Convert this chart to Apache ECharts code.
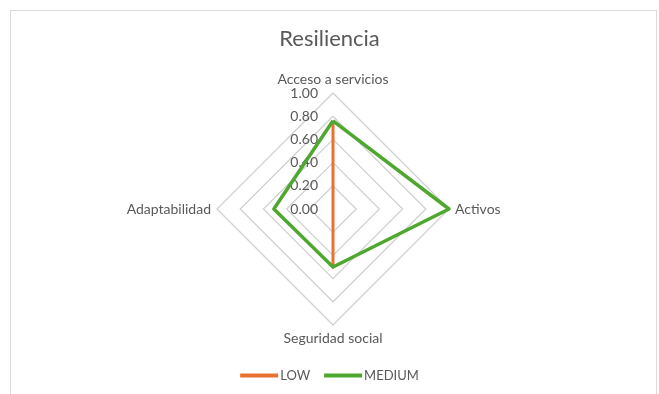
<!DOCTYPE html>
<html><head><meta charset="utf-8">
<script src="https://cdn.jsdelivr.net/npm/echarts@6/dist/echarts.min.js"></script>
<style>html,body{margin:0;padding:0;background:#fff}#c{width:659px;height:394px;position:relative}
#b{position:absolute;left:10px;top:10px;width:647px;height:400px;border:1px solid #d9d9d9;box-sizing:border-box;pointer-events:none}</style>
</head><body><div id="c"></div>
<script>
// Indicators listed in ECharts' counter-clockwise order starting at the top
const indicators = ['Acceso a servicios', 'Adaptabilidad', 'Seguridad social', 'Activos'];
const lowValues = [0.76, 0, 0.50, 0];
const mediumValues = [0.76, 0.51, 0.50, 1.00];
const seriesNames = ['LOW', 'MEDIUM'];
const titleText = 'Resiliencia';

const chart = echarts.init(document.getElementById('c'));
const font = 'Lato';
chart.setOption({
  animation: false,
  title: {text: titleText, left: 'center', top: 23, textStyle: {fontFamily: font, fontSize: 22, fontWeight: 'normal', color: '#595959'}},
  legend: {bottom: 7, left: 'center', icon: 'rect', itemWidth: 38, itemHeight: 4, itemGap: 14,
    textStyle: {fontFamily: font, fontSize: 13, color: '#595959', padding: [0, 0, 0, -3]}, data: seriesNames},
  radar: {
    center: [333, 209], radius: 116, startAngle: 90, shape: 'polygon', splitNumber: 5,
    axisName: {color: '#595959', fontFamily: font, fontSize: 14},
    nameGap: 6,
    axisLine: {show: false},
    splitLine: {lineStyle: {color: '#d0d0d0', width: 1.25}},
    splitArea: {show: false},
    axisLabel: {show: false},
    indicator: indicators.map((n, i) => ({name: n, min: 0, max: 1,
      axisLabel: i === 0 ? {show: true, color: '#595959', fontFamily: font, fontSize: 14, formatter: v => v.toFixed(2), showMinLabel: true, margin: 0, align: 'right', padding: [0, 15, 0, 0]} : {show: false}}))
  },
  series: [{
    type: 'radar', symbol: 'none',
    data: [
      {name: seriesNames[0], value: lowValues, lineStyle: {color: '#e97132', width: 3}, itemStyle: {color: '#e97132'}},
      {name: seriesNames[1], value: mediumValues, lineStyle: {color: '#4ea72e', width: 3.5}, itemStyle: {color: '#4ea72e'}}
    ]
  }]
});
</script><div id="b"></div>
</body></html>
